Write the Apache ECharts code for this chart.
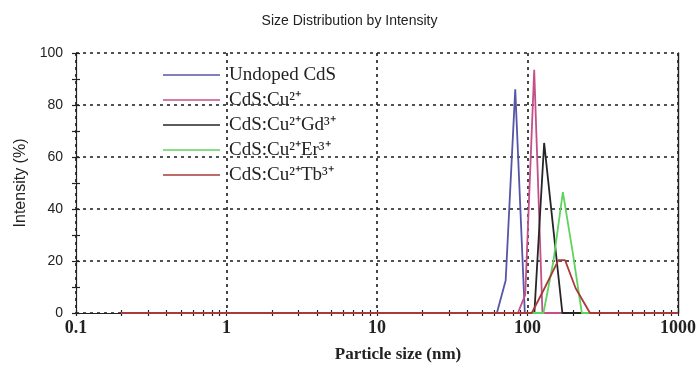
<!DOCTYPE html>
<html>
<head>
<meta charset="utf-8">
<script src="https://cdn.jsdelivr.net/npm/echarts@6/dist/echarts.min.js"></script>
<style>
html,body{margin:0;padding:0;background:#fff;}
#chart{width:699px;height:369px;}
</style>
</head>
<body>
<div id="chart"></div>
<script>
const titleText = 'Size Distribution by Intensity';
const xAxisName = 'Particle size (nm)';
const yAxisName = 'Intensity (%)';
const seriesNames = ['Undoped CdS', 'CdS:Cu²⁺', 'CdS:Cu²⁺Gd³⁺', 'CdS:Cu²⁺Er³⁺', 'CdS:Cu²⁺Tb³⁺'];
const seriesColors = ['#5656a8', '#c4508a', '#262626', '#5fd35f', '#a83a3a'];

const undopedX = [0.2, 62.6, 71.6, 82.9, 96.0, 1000];
const undopedY = [0, 0, 12.5, 86, 0, 0];
const cuX = [0.2, 86.3, 96.6, 110.8, 125.7, 1000];
const cuY = [0, 0, 7, 93.5, 0, 0];
const gdX = [0.2, 111.1, 129.0, 148.7, 170.5, 1000];
const gdY = [0, 0, 65.4, 32, 0, 0];
const erX = [0.2, 127.6, 148.7, 171.8, 200.1, 229.6, 1000];
const erY = [0, 0, 20, 46.5, 23, 0, 0];
const tbX = [0.2, 106.8, 131.0, 160.5, 177.7, 208.9, 260.2, 1000];
const tbY = [0, 0, 10, 20.3, 20.3, 9.5, 0, 0];

const xTickValues = [0.1, 0.2, 0.3, 0.4, 0.5, 0.6, 0.7, 0.8, 0.9,
  1, 2, 3, 4, 5, 6, 7, 8, 9,
  10, 20, 30, 40, 50, 60, 70, 80, 90,
  100, 200, 300, 400, 500, 600, 700, 800, 900, 1000];

const allX = [undopedX, cuX, gdX, erX, tbX];
const allY = [undopedY, cuY, gdY, erY, tbY];

const chart = echarts.init(document.getElementById('chart'));
const gridLine = { show: true, lineStyle: { color: '#1a1a1a', width: 1.6, type: [3, 4] } };
const tickStyle = { color: '#222', width: 1.2 };

function tickAxis(inside) {
  return {
    type: 'log', logBase: 10, min: 0.1, max: 1000, position: 'bottom',
    axisLine: { show: false },
    axisTick: { show: true, inside: inside, length: 3, customValues: xTickValues, lineStyle: tickStyle },
    axisLabel: { show: false },
    splitLine: { show: false }
  };
}

const option = {
  animation: false,
  backgroundColor: '#fff',
  title: {
    text: titleText, left: 'center', top: 9,
    textStyle: { fontFamily: 'Liberation Sans', fontSize: 14, fontWeight: 'normal', color: '#222' }
  },
  legend: {
    orient: 'vertical', left: 158, top: 60,
    itemWidth: 57, itemHeight: 2, itemGap: 5,
    icon: 'path://M0,0 L100,0 L100,3 L0,3 Z',
    data: seriesNames,
    textStyle: { fontFamily: 'Liberation Serif', fontSize: 19, color: '#222', lineHeight: 20, padding: [0, 0, 0, 4] }
  },
  grid: { left: 76, right: 19, top: 53, bottom: 56, containLabel: false },
  xAxis: [
    {
      type: 'log', logBase: 10, min: 0.1, max: 1000,
      name: xAxisName, nameLocation: 'middle', nameGap: 33,
      nameTextStyle: { fontFamily: 'Liberation Serif', fontWeight: 'bold', fontSize: 17, color: '#222', padding: [0, 0, 0, 42] },
      axisLine: { show: true, lineStyle: { color: '#222', width: 1.2 } },
      axisTick: { show: false },
      axisLabel: {
        fontFamily: 'Liberation Serif', fontWeight: 'bold', fontSize: 18, color: '#222', margin: 6,
        formatter: v => String(v)
      },
      splitLine: gridLine,
      minorTick: { show: false }
    },
    tickAxis(false),
    tickAxis(true)
  ],
  yAxis: [
    {
      type: 'value', min: 0, max: 100, interval: 20, position: 'left',
      name: yAxisName, nameLocation: 'middle', nameGap: 47,
      nameTextStyle: { fontFamily: 'Liberation Sans', fontSize: 16, color: '#222' },
      axisLine: { show: true, lineStyle: { color: '#222', width: 1.2 } },
      axisTick: { show: true, inside: false, length: 4, lineStyle: tickStyle },
      minorTick: { show: true, splitNumber: 2, length: 4, lineStyle: tickStyle },
      axisLabel: { fontFamily: 'Liberation Sans', fontSize: 14, color: '#222', margin: 13 },
      splitLine: gridLine
    },
    {
      type: 'value', min: 0, max: 100, interval: 20, position: 'left',
      axisLine: { show: false },
      axisTick: { show: true, inside: true, length: 4, lineStyle: tickStyle },
      minorTick: { show: true, splitNumber: 2, length: 4, lineStyle: tickStyle },
      axisLabel: { show: false },
      splitLine: { show: false }
    },
    {
      type: 'value', min: 0, max: 100, interval: 20, position: 'right',
      axisLine: { show: true, lineStyle: { color: '#222', width: 1.4 } },
      axisTick: { show: false },
      axisLabel: { show: false },
      splitLine: { show: false }
    }
  ],
  series: seriesNames.map((name, i) => ({
    name: name,
    type: 'line',
    xAxisIndex: 0, yAxisIndex: 0,
    symbol: 'none',
    color: seriesColors[i],
    lineStyle: { color: seriesColors[i], width: 1.8 },
    z: 3 + i,
    data: allX[i].map((x, j) => [x, allY[i][j]])
  }))
};
chart.setOption(option);
</script>
</body>
</html>
